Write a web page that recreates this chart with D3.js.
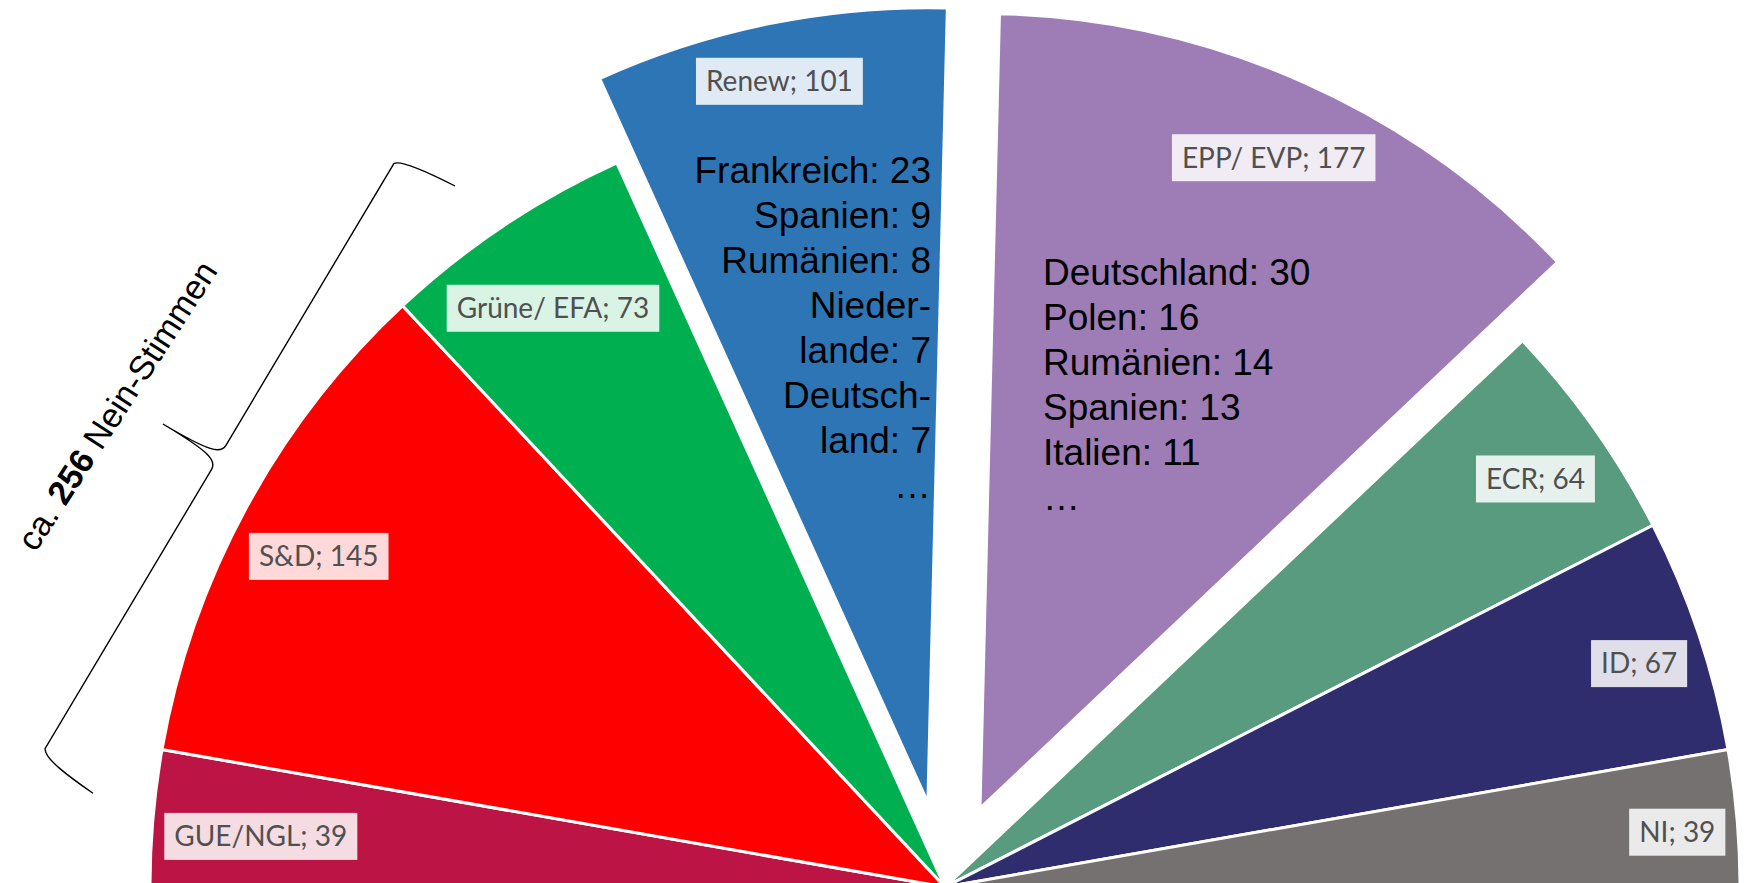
<!DOCTYPE html>
<html>
<head>
<meta charset="utf-8">
<script src="https://cdn.jsdelivr.net/npm/d3@7"></script>
<style>
  body { margin: 0; background: #fff; }
</style>
</head>
<body>
<script>
// seats per group (left to right)
var groups = ["GUE/NGL", "S&D", "Grüne/ EFA", "Renew", "EPP/ EVP", "ECR", "ID", "NI"];
var seats = [39, 145, 73, 101, 177, 64, 67, 39];
var colors = ["#BC1445", "#FF0000", "#00B050", "#2E75B6", "#9E7CB6", "#589B7E", "#302D6E", "#767171"];
var exploded = ["Renew", "EPP/ EVP"];

var renewCountries = ["Frankreich: 23", "Spanien: 9", "Rumänien: 8", "Nieder-", "lande: 7", "Deutsch-", "land: 7", "…"];
var eppCountries = ["Deutschland: 30", "Polen: 16", "Rumänien: 14", "Spanien: 13", "Italien: 11", "…"];
var braceText = ["ca. ", "256", " Nein-Stimmen"];

var width = 1757;
var height = 883;
var cx = 945, cy = 887, R = 795, explodeBy = 86;

var svg = d3.select('body').append('svg')
            .attr('width', width)
            .attr('height', height);

var data = groups.map(function(g, i) {
    return {name: g, seats: seats[i], color: colors[i]};
});

var pie = d3.pie()
            .value(function(d) { return d.seats; })
            .sort(null)
            .startAngle(-Math.PI / 2)
            .endAngle(Math.PI / 2);

var arc = d3.arc().innerRadius(0).outerRadius(R);
var arcs = pie(data);

function shift(d) {
    var off = exploded.indexOf(d.data.name) >= 0 ? explodeBy : 0;
    var mid = (d.startAngle + d.endAngle) / 2;
    return [cx + Math.sin(mid) * off, cy - Math.cos(mid) * off];
}

var pieGroup = svg.append('g');

pieGroup.selectAll('path')
    .data(arcs)
    .enter().append('path')
    .attr('transform', function(d) { var s = shift(d); return 'translate(' + s[0] + ',' + s[1] + ')'; })
    .attr('d', arc)
    .attr('fill', function(d) { return d.data.color; })
    .attr('stroke', '#fff')
    .attr('stroke-width', 3);

// data labels, placed "inside end"
var labels = svg.append('g').selectAll('g')
    .data(arcs)
    .enter().append('g');

labels.append('rect')
    .attr('fill', '#fff')
    .attr('fill-opacity', 0.85);

labels.append('text')
    .attr('text-anchor', 'middle')
    .attr('dy', '0.35em')
    .style('font-family', 'Lato, "Open Sans", sans-serif')
    .style('font-size', '28px')
    .attr('fill', '#505050')
    .text(function(d) { return d.data.name + '; ' + d.data.seats; });

labels.each(function(d) {
    var g = d3.select(this);
    var tw = g.select('text').node().getComputedTextLength();
    var w = tw + 20, h = 47;
    g.select('rect').attr('x', -w / 2).attr('y', -h / 2).attr('width', w).attr('height', h);
    var mid = (d.startAngle + d.endAngle) / 2;
    var r = R - (Math.abs(Math.sin(mid)) * w / 2 + Math.abs(Math.cos(mid)) * h / 2) - 10;
    var s = shift(d);
    g.attr('transform', 'translate(' + (s[0] + Math.sin(mid) * r) + ',' + (s[1] - Math.cos(mid) * r + 9) + ')');
});

// country breakdown texts
var lineH = 45;
svg.append('text')
    .attr('text-anchor', 'end')
    .style('font-family', '"Liberation Sans", Arial, sans-serif')
    .style('font-size', '37px')
    .selectAll('tspan')
    .data(renewCountries)
    .enter().append('tspan')
    .attr('x', 931)
    .attr('y', function(d, i) { return 183 + i * lineH; })
    .text(function(d) { return d; });

svg.append('text')
    .style('font-family', '"Liberation Sans", Arial, sans-serif')
    .style('font-size', '37px')
    .selectAll('tspan')
    .data(eppCountries)
    .enter().append('tspan')
    .attr('x', 1043)
    .attr('y', function(d, i) { return 285 + i * lineH; })
    .text(function(d) { return d; });

// curly brace for the no-votes
var L = 707, body = 64, tipAt = 354, tip = 129;
var bp = d3.path();
bp.moveTo(0, 0);
bp.bezierCurveTo(2, 30, 5, body - 4, 12, body);
bp.lineTo(tipAt - 14, body);
bp.bezierCurveTo(tipAt - 4, body, tipAt, body + 10, tipAt, tip);
bp.bezierCurveTo(tipAt, body + 10, tipAt + 4, body, tipAt + 14, body);
bp.lineTo(L - 14, body);
bp.bezierCurveTo(L - 5, body - 4, L - 2, 30, L, 0);

svg.append('path')
    .attr('d', bp.toString())
    .attr('transform', 'translate(455,186) rotate(120.8)')
    .attr('fill', 'none')
    .attr('stroke', '#000')
    .attr('stroke-width', 1.4);

svg.append('text')
    .attr('transform', 'translate(127,412) rotate(-57)')
    .attr('text-anchor', 'middle')
    .style('font-family', '"Liberation Sans", Arial, sans-serif')
    .style('font-size', '34px')
    .selectAll('tspan')
    .data(braceText)
    .enter().append('tspan')
    .style('font-weight', function(d, i) { return i === 1 ? 'bold' : 'normal'; })
    .text(function(d) { return d; });
</script>
</body>
</html>
